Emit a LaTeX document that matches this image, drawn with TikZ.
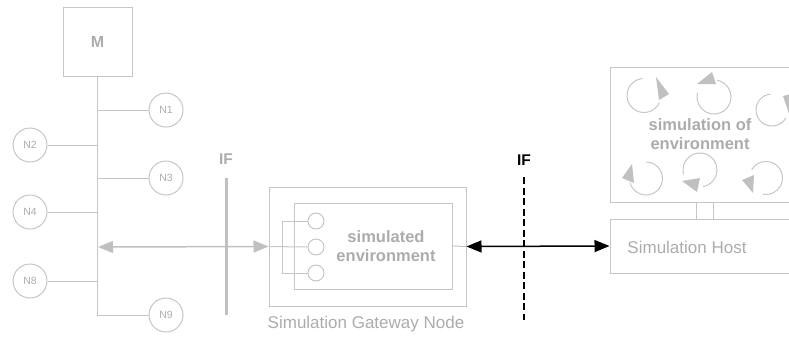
\documentclass[tikz,border=0pt]{standalone}
\usepackage{fontspec}
\setmainfont{Liberation Sans}
\usetikzlibrary{arrows.meta}
\definecolor{lg}{RGB}{198,198,198}
\definecolor{tg}{RGB}{172,172,172}
\definecolor{ag}{RGB}{192,192,192}
\begin{document}
\begin{tikzpicture}[x=1pt,y=-1pt,
  box/.style={draw=lg,line width=1pt,inner sep=0pt},
  nd/.style={circle,draw=lg,line width=1pt,minimum size=34pt,inner sep=0pt,text=tg,font=\fontsize{10.5}{12}\selectfont},
  sc/.style={circle,draw=lg,line width=1pt,minimum size=16pt,inner sep=0pt},
  ln/.style={draw=lg,line width=1pt},
  lbl/.style={text=tg,font=\fontsize{17}{20}\selectfont},
  blbl/.style={text=tg,font=\bfseries\fontsize{16.5}{19.5}\selectfont,align=center},
  ga/.style={draw=ag,line width=1.5pt,{Triangle[length=15pt,width=12pt,fill=ag]}-{Triangle[length=15pt,width=12pt,fill=ag]}},
  ba/.style={draw=black,line width=1.5pt,{Triangle[length=15pt,width=12pt]}-{Triangle[length=15pt,width=12pt]}},
  carc/.style={draw=lg,line width=1pt},
  chead/.style={fill=ag}
]
\useasboundingbox (0,0) rectangle (789,338);
\clip (0,0) rectangle (789,338);

% left network
\node[box,minimum width=69pt,minimum height=69pt,text=tg,font=\bfseries\fontsize{16}{19}\selectfont] (M) at (97.5,41.5) {M};
\node[nd] (N1) at (166,110) {N1};
\node[nd] (N2) at (30,145) {N2};
\node[nd] (N3) at (166,178) {N3};
\node[nd] (N4) at (30,212) {N4};
\node[nd] (N8) at (30,281) {N8};
\node[nd] (N9) at (166,315) {N9};
\coordinate (busA) at (98,247);
\draw[ln] (M.south) -- (M.south |- N9.west) -- (N9.west);
\draw[ln] (M.south |- N1.west) -- (N1.west);
\draw[ln] (N2.east) -- (M.south |- N2.east);
\draw[ln] (M.south |- N3.west) -- (N3.west);
\draw[ln] (N4.east) -- (M.south |- N4.east);
\draw[ln] (N8.east) -- (M.south |- N8.east);

% left IF
\node[text=tg,font=\bfseries\fontsize{15.5}{18}\selectfont] (IFa) at (226,159) {IF};
\coordinate (IFat) at (226,178);
\coordinate (IFab) at (226,315);
\draw[draw=ag,line width=3pt] (IFat) -- (IFab);

% gateway
\node[box,minimum width=197pt,minimum height=119pt] (outer) at (367.5,246.5) {};
\node[box,minimum width=158pt,minimum height=86pt] (inner) at (373,246) {};
\node[sc] (s1) at (316,221) {};
\node[sc] (s2) at (316,247) {};
\node[sc] (s3) at (316,273) {};
\coordinate (brT) at (282,221);
\coordinate (brB) at (282,273);
\draw[ln] (s1.west) -- (brT) -- (brB) -- (s3.west);
\draw[ln] (outer.west) -- (s2.west);
\node[blbl] (simenv) at (386,246) {simulated\\environment};
\node[lbl] (gwlbl) at (366,324) {Simulation Gateway Node};

\draw[ga] (busA) -- (outer.west);

% right IF
\node[text=black,font=\bfseries\fontsize{15.5}{18}\selectfont] (IFb) at (524,160) {IF};
\coordinate (IFbt) at (524,177);
\coordinate (IFbb) at (524,320);
\draw[black,line width=2.5pt,dash pattern=on 7pt off 3.5pt] (IFbt) -- (IFbb);

% host side
\node[box,minimum width=190pt,minimum height=54pt] (host) at (705,246) {};
\node[lbl] (hostlbl) at (687,247) {Simulation Host};
\node[box,minimum width=190pt,minimum height=135pt] (env) at (705,134.5) {};
\node[blbl] (envlbl) at (700,134) {simulation of\\environment};
\draw[ln] (696,0 |- env.south) -- (696,0 |- host.north);
\draw[ln] (713,0 |- env.south) -- (713,0 |- host.north);

\draw[ln] (inner.east) -- (outer.east);
\draw[ba] (outer.east) -- (host.west);

% circular arrows
\draw[carc] (644,95.5) ++(95:17pt) arc[start angle=95,end angle=335,radius=17pt];
\fill[chead] (656,77) -- (669,94) -- (659,100) -- cycle;
\draw[carc] (714,97) ++(80:17pt) arc[start angle=80,end angle=-195,radius=17pt];
\fill[chead] (712,72) -- (716,84) -- (697,84) -- cycle;
\draw[carc] (772,110) ++(95:16pt) arc[start angle=95,end angle=330,radius=16pt];
\fill[chead] (783,96) -- (791,94) -- (789,114) -- cycle;
\draw[carc] (646,178.5) ++(90:16.5pt) arc[start angle=90,end angle=-165,radius=16.5pt];
\fill[chead] (632,164) -- (622,178) -- (634,183) -- cycle;
\draw[carc] (700,170) ++(195:17pt) arc[start angle=195,end angle=-80,radius=17pt];
\fill[chead] (682,181) -- (700,178) -- (697,192) -- cycle;
\draw[carc] (766,178) ++(150:16.5pt) arc[start angle=150,end angle=-100,radius=16.5pt];
\fill[chead] (742,180) -- (754,175) -- (753,193) -- cycle;
\end{tikzpicture}
\end{document}
